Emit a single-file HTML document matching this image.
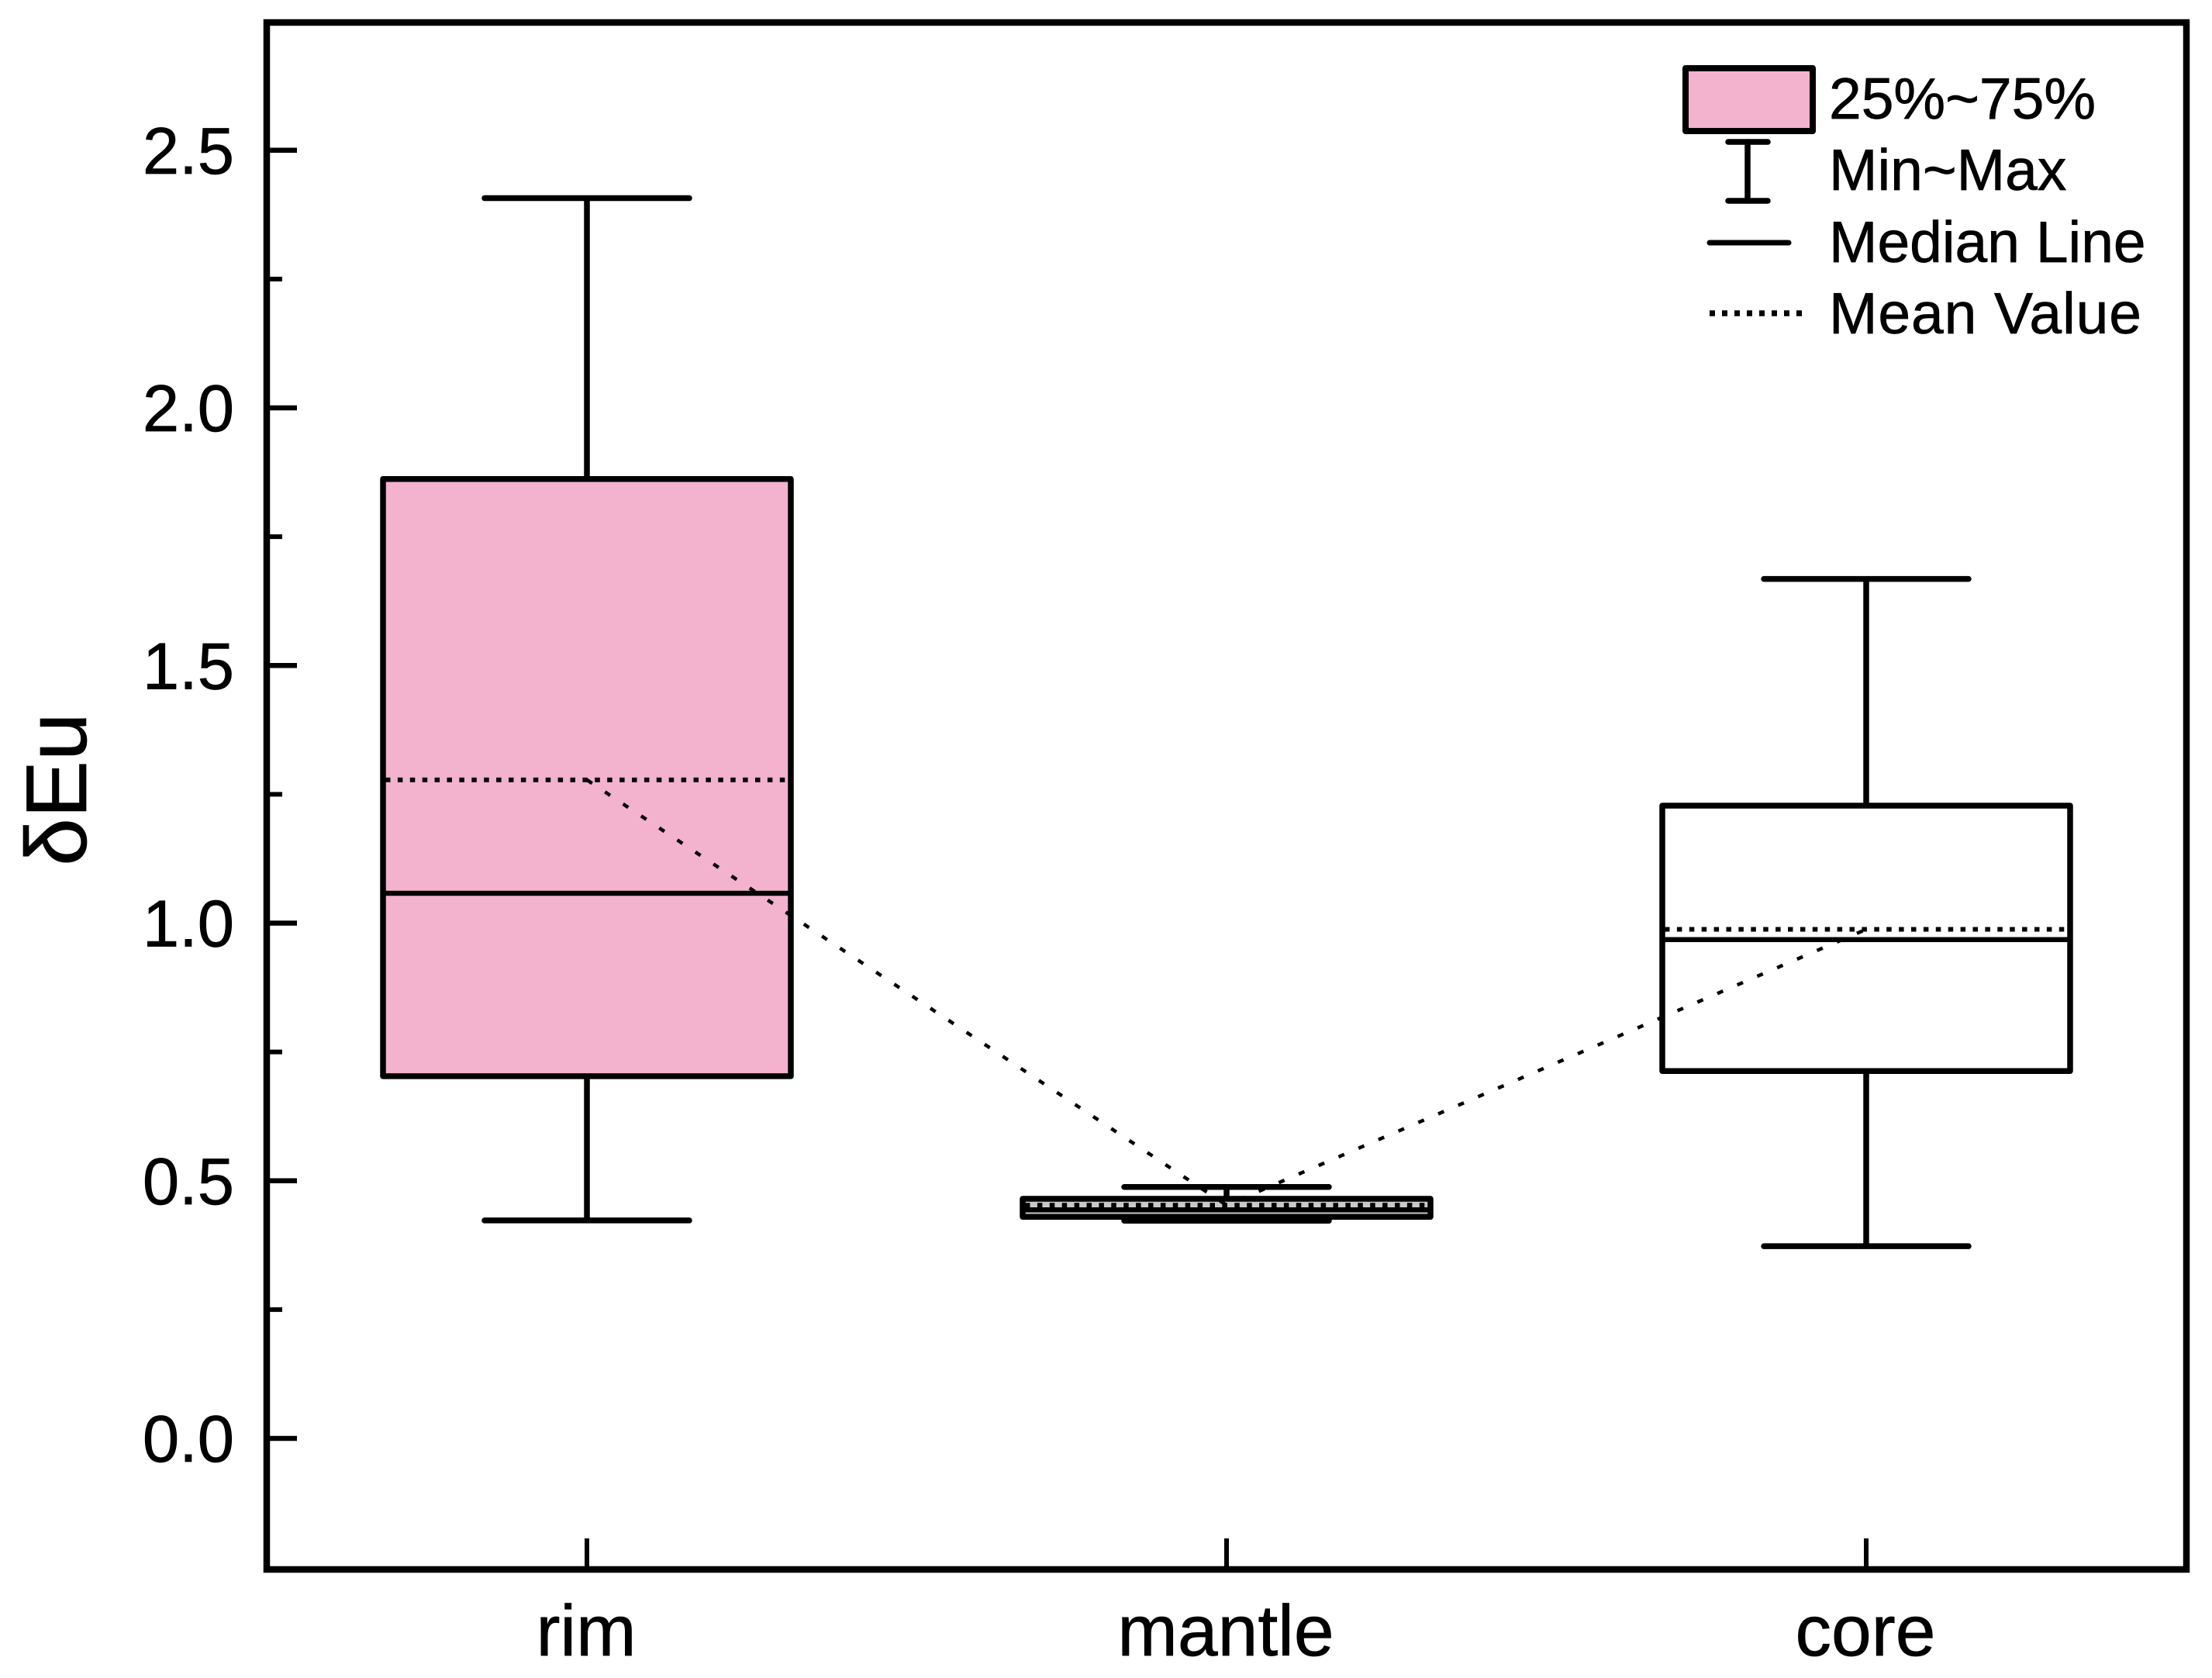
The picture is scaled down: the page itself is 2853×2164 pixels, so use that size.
<!DOCTYPE html>
<html lang="en">
<head>
<meta charset="utf-8">
<title>δEu box chart</title>
<style>
html,body{margin:0;padding:0;background:#fff;}
svg{display:block;}
text{font-family:"Liberation Sans",sans-serif;fill:#000;stroke:#000;stroke-width:0.7px;}
</style>
</head>
<body>
<svg id="chart" xmlns="http://www.w3.org/2000/svg" width="2853" height="2164" viewBox="0 0 2853 2164">
  <rect x="0" y="0" width="2853" height="2164" fill="#fff"/>
  <g id="marks"></g>
  <rect x="344" y="29" width="2476" height="1995" fill="none" stroke="#000" stroke-width="8.5"/>
  <g id="axes"></g>
  <text transform="translate(111 1018) rotate(-90)" text-anchor="middle" font-size="111">δEu</text>
  <g>
    <rect x="2174" y="88" width="164" height="81" fill="#F3B2CE" stroke="#000" stroke-width="8" stroke-linejoin="round"/>
    <text x="2359" y="153" font-size="75">25%~75%</text>
    <g stroke="#000" stroke-width="7.5" stroke-linecap="round">
      <line x1="2229" y1="183" x2="2280" y2="183"/>
      <line x1="2254" y1="183" x2="2254" y2="259"/>
      <line x1="2229" y1="259" x2="2280" y2="259"/>
    </g>
    <text x="2359" y="245" font-size="75">Min~Max</text>
    <line x1="2205" y1="313" x2="2307" y2="313" stroke="#000" stroke-width="7" stroke-linecap="round"/>
    <text x="2359" y="338" font-size="75">Median Line</text>
    <line x1="2205" y1="404" x2="2325" y2="404" stroke="#000" stroke-width="7.5" stroke-dasharray="7 9"/>
    <text x="2359" y="430" font-size="75" textLength="403">Mean Value</text>
  </g>
</svg>
<script>
const categories = ['rim', 'mantle', 'core'];
const maxValues = [2.407, 0.488, 1.668];
const q3Values = [1.862, 0.465, 1.228];
const medianValues = [1.058, 0.4436, 0.968];
const meanValues = [1.278, 0.4526, 0.988];
const q1Values = [0.703, 0.43, 0.713];
const minValues = [0.423, 0.4225, 0.373];
const boxFills = ['#F3B2CE', '#C9C9C9', '#FFFFFF'];
const majorTicks = [0.0, 0.5, 1.0, 1.5, 2.0, 2.5];
const minorTicks = [0.25, 0.75, 1.25, 1.75, 2.25];
const tickLabels = ['0.0', '0.5', '1.0', '1.5', '2.0', '2.5'];

const NS = 'http://www.w3.org/2000/svg';
const yScale = function (v) { return 1855 - 664.5 * v; };
const xScale = function (i) { return 757 + 825 * i; };
const BOX_HALF = 263;
const CAP_HALF = 132;
const marks = document.getElementById('marks');
const axes = document.getElementById('axes');

function make(parent, tag, attrs) {
  const el = document.createElementNS(NS, tag);
  Object.keys(attrs).forEach(function (k) { el.setAttribute(k, attrs[k]); });
  parent.appendChild(el);
  return el;
}

categories.forEach(function (cat, i) {
  const x = xScale(i);
  const g = make(marks, 'g', {});
  
  

  const whisker = make(g, 'path', {
    d: 'M' + (x - CAP_HALF) + ' ' + yScale(maxValues[i]) + 'H' + (x + CAP_HALF) +
       'M' + x + ' ' + yScale(maxValues[i]) + 'V' + yScale(minValues[i]) +
       'M' + (x - CAP_HALF) + ' ' + yScale(minValues[i]) + 'H' + (x + CAP_HALF),
    fill: 'none', stroke: '#000', 'stroke-width': 7.5, 'stroke-linecap': 'round'
  });
  
  

  const box = make(g, 'rect', {
    x: x - BOX_HALF,
    y: yScale(q3Values[i]),
    width: BOX_HALF * 2,
    height: yScale(q1Values[i]) - yScale(q3Values[i]),
    fill: boxFills[i], stroke: '#000', 'stroke-width': 7.5, 'stroke-linejoin': 'round'
  });
  
  

  const median = make(g, 'line', {
    x1: x - BOX_HALF, x2: x + BOX_HALF,
    y1: yScale(medianValues[i]), y2: yScale(medianValues[i]),
    stroke: '#000', 'stroke-width': 6.5
  });
  
  

  const mean = make(g, 'line', {
    x1: x - BOX_HALF + 3, x2: x + BOX_HALF - 3,
    y1: yScale(meanValues[i]), y2: yScale(meanValues[i]),
    stroke: '#000', 'stroke-width': 6, 'stroke-dasharray': '6.5 9.4'
  });
  
  

  const tick = make(axes, 'line', {
    x1: x, x2: x, y1: 2024, y2: 1984, stroke: '#000', 'stroke-width': 6
  });
  
  

  const label = make(axes, 'text', {
    x: x - 1, y: 2135, 'text-anchor': 'middle', 'font-size': 93
  });
  label.textContent = cat;
  
  
});

const connector = make(marks, 'polyline', {
  points: categories.map(function (c, i) { return xScale(i) + ',' + yScale(meanValues[i]); }).join(' '),
  fill: 'none', stroke: '#000', 'stroke-width': 4.5, 'stroke-dasharray': '8 20'
});



majorTicks.forEach(function (v, i) {
  const y = yScale(v);
  const tick = make(axes, 'line', {
    x1: 344, x2: 383, y1: y, y2: y, stroke: '#000', 'stroke-width': 6.5
  });
  
  
  const label = make(axes, 'text', {
    x: 302, y: y + 30, 'text-anchor': 'end', 'font-size': 85
  });
  label.textContent = tickLabels[i];
  
  
});

minorTicks.forEach(function (v) {
  const y = yScale(v);
  const tick = make(axes, 'line', {
    x1: 344, x2: 364, y1: y, y2: y, stroke: '#000', 'stroke-width': 6
  });
  
  
});
</script>
</body>
</html>
